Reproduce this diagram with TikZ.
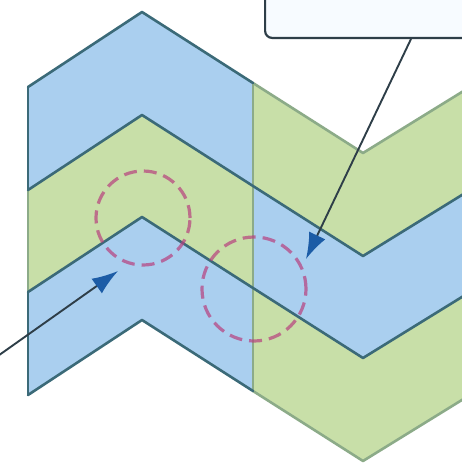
\documentclass[tikz,border=0pt]{standalone}
\usetikzlibrary{arrows.meta}
\definecolor{bandblue}{HTML}{AACFEF}
\definecolor{bandgreen}{HTML}{C8DFA8}
\definecolor{edgedark}{HTML}{3B6A78}
\definecolor{edgegreen}{HTML}{8CAB88}
\definecolor{ringpink}{HTML}{B8407E}
\definecolor{tipblue}{HTML}{1C5CA6}
\definecolor{boxline}{HTML}{2E3E48}
\definecolor{boxfill}{HTML}{F7FBFF}
\begin{document}
\begin{tikzpicture}[x=1pt,y=-1pt,
  edgeline/.style={line width=2.6pt,line join=round,line cap=round},
  ring/.style={circle,draw=ringpink,draw opacity=0.7,line width=3.2pt,dash pattern=on 13pt off 7pt,inner sep=0pt},
  pointer/.style={draw=boxline,line width=1.9pt,-{Latex[length=26pt,width=18pt,color=tipblue]}},
  callout/.style={draw=boxline,line width=2.2pt,fill=boxfill,rounded corners=7pt,inner sep=0pt}]
\useasboundingbox (0,0) rectangle (462,464);
\clip (0,0) rectangle (462,464);
\fill[white] (0,0) rectangle (462,464);
\foreach \k/\a/\l/\d/\v in {0/12/87/83/153, 1/115/190/186/256, 2/217/292/288/358, 3/320/395/391/461} {
  \coordinate (L\k) at (28,\l);
  \coordinate (A\k) at (142,\a);
  \coordinate (D\k) at (253,\d);
  \coordinate (V\k) at (363,\v);
  \coordinate (R\k) at (470,\l);
}
% bands
\fill[bandblue]  (L0)--(A0)--(D0)--(D1)--(A1)--(L1)--cycle;
\fill[bandgreen] (L1)--(A1)--(D1)--(D2)--(A2)--(L2)--cycle;
\fill[bandblue]  (L2)--(A2)--(D2)--(D3)--(A3)--(L3)--cycle;
\fill[bandgreen] (D0)--(V0)--(R0)--(R1)--(V1)--(D1)--cycle;
\fill[bandblue]  (D1)--(V1)--(R1)--(R2)--(V2)--(D2)--cycle;
\fill[bandgreen] (D2)--(V2)--(R2)--(R3)--(V3)--(D3)--cycle;
% edges
\draw[edgeline,edgegreen] (D0)--(D3);
\draw[edgeline,edgegreen] (L1)--(L2);
\draw[edgeline,edgegreen] (D0)--(V0)--(R0);
\draw[edgeline,edgegreen] (D3)--(V3)--(R3);
\draw[edgeline,edgedark] (L0)--(L1);
\draw[edgeline,edgedark] (L2)--(L3);
\draw[edgeline,edgedark] (L0)--(A0)--(D0);
\draw[edgeline,edgedark] (L1)--(A1)--(D1)--(V1)--(R1);
\draw[edgeline,edgedark] (L2)--(A2)--(D2)--(V2)--(R2);
\draw[edgeline,edgedark] (L3)--(A3)--(D3);
% dashed rings
\node[ring,minimum size=94pt] (c1) at (143,218) {};
\node[ring,minimum size=104pt] (c2) at (254,289) {};
% callout box
\node[callout,anchor=south west,minimum width=240pt,minimum height=90pt] (box) at (264,39) {};
\coordinate (p1) at (411,39);
\coordinate (t1) at (306,259);
\coordinate (p2) at (-5,358);
\coordinate (t2) at (118,271);
\draw[pointer] (p1) -- (t1);
\draw[pointer] (p2) -- (t2);
\end{tikzpicture}
\end{document}
